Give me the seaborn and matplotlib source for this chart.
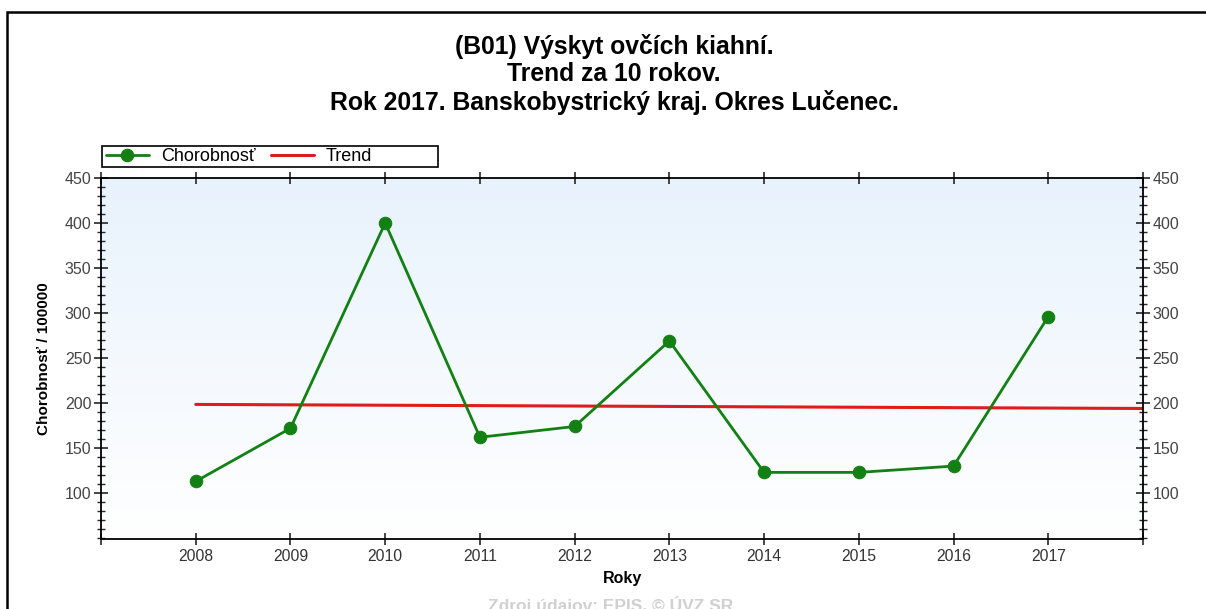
import numpy as np
import pandas as pd
import seaborn as sns
import matplotlib.pyplot as plt
from matplotlib.patches import Rectangle
from matplotlib.ticker import MultipleLocator

# Údaje odčítané z grafu
roky = [2008, 2009, 2010, 2011, 2012, 2013, 2014, 2015, 2016, 2017]
chorobnost = [113, 172, 400, 162, 174, 269, 123, 123, 130, 296]
trend_roky = [2008, 2018]
trend_hodnoty = [198.5, 194.0]

nadpis = ('(B01) Výskyt ovčích kiahní.\n'
          'Trend za 10 rokov.\n'
          'Rok 2017. Banskobystrický kraj. Okres Lučenec.')

sns.set_style('ticks')
plt.rcParams['font.family'] = ['Liberation Sans', 'DejaVu Sans']

W, H = 1206, 609
fig = plt.figure(figsize=(W / 100, H / 100), dpi=100)
ax = fig.add_axes([101 / W, 1 - 539 / H, (1143 - 101) / W, (539 - 178) / H])

# gradient pozadia
grad = np.linspace(1, 0, 256).reshape(-1, 1)
farby = np.ones((256, 1, 3))
horna = np.array([0.91, 0.95, 0.99])
for i in range(3):
    farby[:, 0, i] = 1 - grad[:, 0] * (1 - horna[i])
ax.imshow(farby, extent=[0, 1, 0, 1], transform=ax.transAxes,
          aspect='auto', zorder=0, interpolation='bilinear')

df = pd.DataFrame({'Roky': roky, 'Chorobnosť': chorobnost})
df_trend = pd.DataFrame({'Roky': trend_roky, 'Trend': trend_hodnoty})

zelena = '#128012'
cervena = '#dd1c1c'
sns.lineplot(data=df, x='Roky', y='Chorobnosť', ax=ax, color=zelena,
             marker='o', markersize=9, markeredgecolor=zelena,
             linewidth=2, label='Chorobnosť', zorder=3)
sns.lineplot(data=df_trend, x='Roky', y='Trend', ax=ax, color=cervena,
             linewidth=2.2, label='Trend', zorder=2)

ax.set_xlim(2007, 2018)
ax.set_ylim(49, 450)
ax.set_xticks(list(range(2007, 2019)))
ax.set_xticklabels([''] + [str(r) for r in roky] + [''])
ax.yaxis.set_major_locator(MultipleLocator(50))
ax.yaxis.set_minor_locator(MultipleLocator(10))
ax.set_yticks([100, 150, 200, 250, 300, 350, 400, 450])

for s in ax.spines.values():
    s.set_linewidth(1.3)
    s.set_color('black')

ax.tick_params(axis='x', which='major', direction='inout', length=9, width=1.2,
               top=True, labelsize=11.3, labelcolor='#333333', pad=3)
ax.tick_params(axis='y', which='major', direction='inout', length=10, width=1.2,
               left=True, right=True, labelleft=True, labelright=True,
               labelsize=11.5, labelcolor='#444444', pad=2)
ax.tick_params(axis='y', which='minor', direction='inout', length=6, width=1,
               left=True, right=True)

ax.set_xlabel('Roky', fontsize=11.5, fontweight='bold', labelpad=5, color='black')
ax.set_ylabel('Chorobnosť / 100000', fontsize=11, fontweight='bold', labelpad=10,
              color='black')

fig.text(614 / W, 1 - 34 / H, nadpis, ha='center', va='top', fontsize=17.8,
         fontweight='bold', linespacing=1.17, color='black')

# legenda
leg = ax.legend(loc='center left', bbox_to_anchor=(104 / W, 1 - 156.5 / H),
                bbox_transform=fig.transFigure, ncol=2, frameon=False,
                fontsize=13, handlelength=2.4, handletextpad=0.65,
                columnspacing=0.85, borderaxespad=0, borderpad=0.1)
for t in leg.get_texts():
    t.set_color('black')
fig.patches.append(Rectangle((102 / W, 1 - 167 / H), 336 / W, 21 / H,
                             transform=fig.transFigure, fill=False,
                             edgecolor='black', linewidth=1.2))

# rám obrázka
fig.patches.append(Rectangle((7 / W, -0.02), 1.05, 1 - 12 / H + 0.02,
                             transform=fig.transFigure, fill=False,
                             edgecolor='black', linewidth=1.8))

fig.text(611 / W, 1 - 596 / H, 'Zdroj údajov: EPIS, © ÚVZ SR', ha='center',
         va='top', fontsize=12.5, fontweight='bold', color='#d0d0d0')

plt.savefig('out.png', dpi=100)
plt.close()
